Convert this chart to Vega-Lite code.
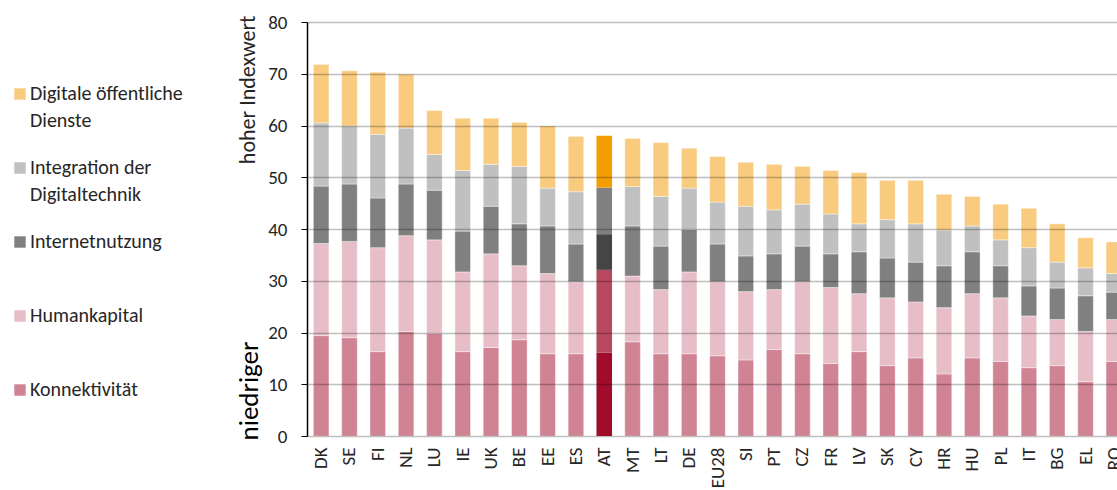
{
  "$schema": "https://vega.github.io/schema/vega-lite/v6.json",
  "width": 810,
  "height": 414,
  "autosize": {"type": "none"},
  "padding": {"left": 307, "top": 22, "right": 0, "bottom": 54},
  "background": "white",
  "config": {
    "view": {"stroke": null},
    "font": "Carlito, Lato, sans-serif",
    "axis": {"labelFont": "Carlito, Lato, sans-serif", "titleFont": "Carlito, Lato, sans-serif"},
    "legend": {"labelFont": "Carlito, Lato, sans-serif"},
    "style": {"guide-label": {"lineHeight": 27}}
  },
  "data": {
    "values": [
      {"land": "DK", "Konnektivität": 19.4, "Humankapital": 17.8, "Internetnutzung": 11.1, "Integration der Digitaltechnik": 12.2, "Digitale öffentliche Dienste": 11.3},
      {"land": "SE", "Konnektivität": 19.0, "Humankapital": 18.6, "Internetnutzung": 11.1, "Integration der Digitaltechnik": 11.2, "Digitale öffentliche Dienste": 10.7},
      {"land": "FI", "Konnektivität": 16.3, "Humankapital": 20.1, "Internetnutzung": 9.6, "Integration der Digitaltechnik": 12.3, "Digitale öffentliche Dienste": 12.0},
      {"land": "NL", "Konnektivität": 20.2, "Humankapital": 18.5, "Internetnutzung": 10.0, "Integration der Digitaltechnik": 10.8, "Digitale öffentliche Dienste": 10.4},
      {"land": "LU", "Konnektivität": 19.8, "Humankapital": 18.1, "Internetnutzung": 9.6, "Integration der Digitaltechnik": 6.9, "Digitale öffentliche Dienste": 8.5},
      {"land": "IE", "Konnektivität": 16.3, "Humankapital": 15.4, "Internetnutzung": 7.9, "Integration der Digitaltechnik": 11.7, "Digitale öffentliche Dienste": 10.1},
      {"land": "UK", "Konnektivität": 17.1, "Humankapital": 18.1, "Internetnutzung": 9.2, "Integration der Digitaltechnik": 8.1, "Digitale öffentliche Dienste": 8.9},
      {"land": "BE", "Konnektivität": 18.6, "Humankapital": 14.3, "Internetnutzung": 8.1, "Integration der Digitaltechnik": 11.1, "Digitale öffentliche Dienste": 8.5},
      {"land": "EE", "Konnektivität": 15.9, "Humankapital": 15.5, "Internetnutzung": 9.2, "Integration der Digitaltechnik": 7.3, "Digitale öffentliche Dienste": 12.0},
      {"land": "ES", "Konnektivität": 15.9, "Humankapital": 13.9, "Internetnutzung": 7.3, "Integration der Digitaltechnik": 10.1, "Digitale öffentliche Dienste": 10.7},
      {"land": "AT", "Konnektivität": 16.1, "Humankapital": 16.0, "Internetnutzung": 6.9, "Integration der Digitaltechnik": 9.0, "Digitale öffentliche Dienste": 10.0},
      {"land": "MT", "Konnektivität": 18.2, "Humankapital": 12.7, "Internetnutzung": 9.7, "Integration der Digitaltechnik": 7.6, "Digitale öffentliche Dienste": 9.3},
      {"land": "LT", "Konnektivität": 15.9, "Humankapital": 12.4, "Internetnutzung": 8.4, "Integration der Digitaltechnik": 9.6, "Digitale öffentliche Dienste": 10.4},
      {"land": "DE", "Konnektivität": 15.9, "Humankapital": 15.8, "Internetnutzung": 8.2, "Integration der Digitaltechnik": 8.0, "Digitale öffentliche Dienste": 7.7},
      {"land": "EU28", "Konnektivität": 15.5, "Humankapital": 14.3, "Internetnutzung": 7.3, "Integration der Digitaltechnik": 8.1, "Digitale öffentliche Dienste": 8.8},
      {"land": "SI", "Konnektivität": 14.7, "Humankapital": 13.2, "Internetnutzung": 6.9, "Integration der Digitaltechnik": 9.6, "Digitale öffentliche Dienste": 8.5},
      {"land": "PT", "Konnektivität": 16.7, "Humankapital": 11.6, "Internetnutzung": 6.9, "Integration der Digitaltechnik": 8.5, "Digitale öffentliche Dienste": 8.8},
      {"land": "CZ", "Konnektivität": 15.9, "Humankapital": 13.9, "Internetnutzung": 6.9, "Integration der Digitaltechnik": 8.1, "Digitale öffentliche Dienste": 7.3},
      {"land": "FR", "Konnektivität": 14.0, "Humankapital": 14.7, "Internetnutzung": 6.5, "Integration der Digitaltechnik": 7.7, "Digitale öffentliche Dienste": 8.4},
      {"land": "LV", "Konnektivität": 16.3, "Humankapital": 11.2, "Internetnutzung": 8.1, "Integration der Digitaltechnik": 5.4, "Digitale öffentliche Dienste": 9.9},
      {"land": "SK", "Konnektivität": 13.6, "Humankapital": 13.1, "Internetnutzung": 7.7, "Integration der Digitaltechnik": 7.4, "Digitale öffentliche Dienste": 7.6},
      {"land": "CY", "Konnektivität": 15.1, "Humankapital": 10.8, "Internetnutzung": 7.7, "Integration der Digitaltechnik": 7.4, "Digitale öffentliche Dienste": 8.4},
      {"land": "HR", "Konnektivität": 12.0, "Humankapital": 12.8, "Internetnutzung": 8.1, "Integration der Digitaltechnik": 6.9, "Digitale öffentliche Dienste": 6.9},
      {"land": "HU", "Konnektivität": 15.1, "Humankapital": 12.4, "Internetnutzung": 8.1, "Integration der Digitaltechnik": 5.0, "Digitale öffentliche Dienste": 5.7},
      {"land": "PL", "Konnektivität": 14.4, "Humankapital": 12.3, "Internetnutzung": 6.2, "Integration der Digitaltechnik": 5.0, "Digitale öffentliche Dienste": 6.9},
      {"land": "IT", "Konnektivität": 13.2, "Humankapital": 10.0, "Internetnutzung": 5.8, "Integration der Digitaltechnik": 7.4, "Digitale öffentliche Dienste": 7.6},
      {"land": "BG", "Konnektivität": 13.6, "Humankapital": 8.9, "Internetnutzung": 6.1, "Integration der Digitaltechnik": 5.0, "Digitale öffentliche Dienste": 7.4},
      {"land": "EL", "Konnektivität": 10.5, "Humankapital": 9.7, "Internetnutzung": 6.9, "Integration der Digitaltechnik": 5.4, "Digitale öffentliche Dienste": 5.8},
      {"land": "RO", "Konnektivität": 14.4, "Humankapital": 8.1, "Internetnutzung": 5.3, "Integration der Digitaltechnik": 3.6, "Digitale öffentliche Dienste": 6.1}
    ]
  },
  "transform": [
    {"fold": ["Konnektivität", "Humankapital", "Internetnutzung", "Integration der Digitaltechnik", "Digitale öffentliche Dienste"], "as": ["cat", "value"]},
    {"calculate": "indexof(['Konnektivität','Humankapital','Internetnutzung','Integration der Digitaltechnik','Digitale öffentliche Dienste'], datum.cat)", "as": "rank"}
  ],
  "layer": [
    {
      "transform": [{"filter": "datum.land !== 'AT'"}],
      "mark": {"type": "bar", "stroke": "white", "strokeWidth": 0.8, "strokeOpacity": 0.5},
      "encoding": {
        "x": {
          "field": "land", "type": "nominal",
          "sort": ["DK","SE","FI","NL","LU","IE","UK","BE","EE","ES","AT","MT","LT","DE","EU28","SI","PT","CZ","FR","LV","SK","CY","HR","HU","PL","IT","BG","EL","RO"],
          "scale": {"range": [0, 821], "paddingInner": 0.45, "paddingOuter": 0.225},
          "axis": {"title": null, "labelAngle": -90, "labelFontSize": 19, "labelColor": "#262626", "ticks": false, "domain": false, "labelPadding": 11, "labelOverlap": false, "labelBound": false, "labelFlush": false}
        },
        "y": {
          "field": "value", "type": "quantitative", "stack": "zero",
          "scale": {"domain": [0, 80]},
          "axis": {"orient": "left", "values": [0,10,20,30,40,50,60,70,80], "title": "hoher Indexwert", "titleAnchor": "end", "titleY": -7, "titleFontSize": 22, "titleFontWeight": "normal", "titleColor": "#262626", "titlePadding": 8, "labelFontSize": 19, "labelColor": "#262626", "labelPadding": 14, "tickSize": 6, "tickColor": "black", "domainColor": "black", "domainWidth": 1.5, "gridColor": "black", "gridOpacity": 0.25, "gridWidth": 1.5, "zindex": 1}
        },
        "color": {
          "field": "cat", "type": "nominal",
          "scale": {
            "domain": ["Digitale öffentliche Dienste", "Integration der Digitaltechnik", "Internetnutzung", "Humankapital", "Konnektivität"],
            "range": ["#f8cb7f", "#c0c0c0", "#808080", "#e7bec7", "#d08393"]
          },
          "legend": {
            "title": null, "orient": "none", "legendX": -297, "legendY": 62,
            "symbolType": "square", "symbolSize": 130, "symbolStrokeWidth": 0, "symbolOpacity": 1,
            "labelFontSize": 20, "labelColor": "#262626", "labelOffset": 0, "labelLimit": 300,
            "labelBaseline": "middle",
            "gridAlign": "all", "rowPadding": 27,
            "labelExpr": "datum.label == 'Digitale öffentliche Dienste' ? ['Digitale öffentliche', 'Dienste'] : datum.label == 'Integration der Digitaltechnik' ? ['Integration der', 'Digitaltechnik'] : datum.label"
          }
        },
        "order": {"field": "rank", "type": "quantitative"}
      }
    },
    {
      "transform": [{"filter": "datum.land === 'AT'"}],
      "mark": {"type": "bar"},
      "encoding": {
        "x": {"field": "land", "type": "nominal", "sort": ["DK","SE","FI","NL","LU","IE","UK","BE","EE","ES","AT","MT","LT","DE","EU28","SI","PT","CZ","FR","LV","SK","CY","HR","HU","PL","IT","BG","EL","RO"]},
        "y": {"field": "value", "type": "quantitative", "stack": "zero", "axis": null},
        "color": {
          "field": "cat", "type": "nominal", "legend": null,
          "scale": {
            "domain": ["Digitale öffentliche Dienste", "Integration der Digitaltechnik", "Internetnutzung", "Humankapital", "Konnektivität"],
            "range": ["#f49e00", "#808080", "#454545", "#b8485f", "#a10c2d"]
          }
        },
        "order": {"field": "rank", "type": "quantitative"}
      }
    },
    {
      "mark": {"type": "point", "opacity": 0},
      "encoding": {
        "y": {
          "field": "value", "type": "quantitative",
          "axis": {"orient": "left", "title": "niedriger", "titleAnchor": "start", "titleY": 418, "titleFontSize": 27, "titleFontWeight": "normal", "titleColor": "black", "titlePadding": 44, "labels": false, "ticks": false, "domain": false, "grid": false}
        }
      }
    }
  ],
  "resolve": {"scale": {"color": "independent"}, "axis": {"y": "independent"}}
}
